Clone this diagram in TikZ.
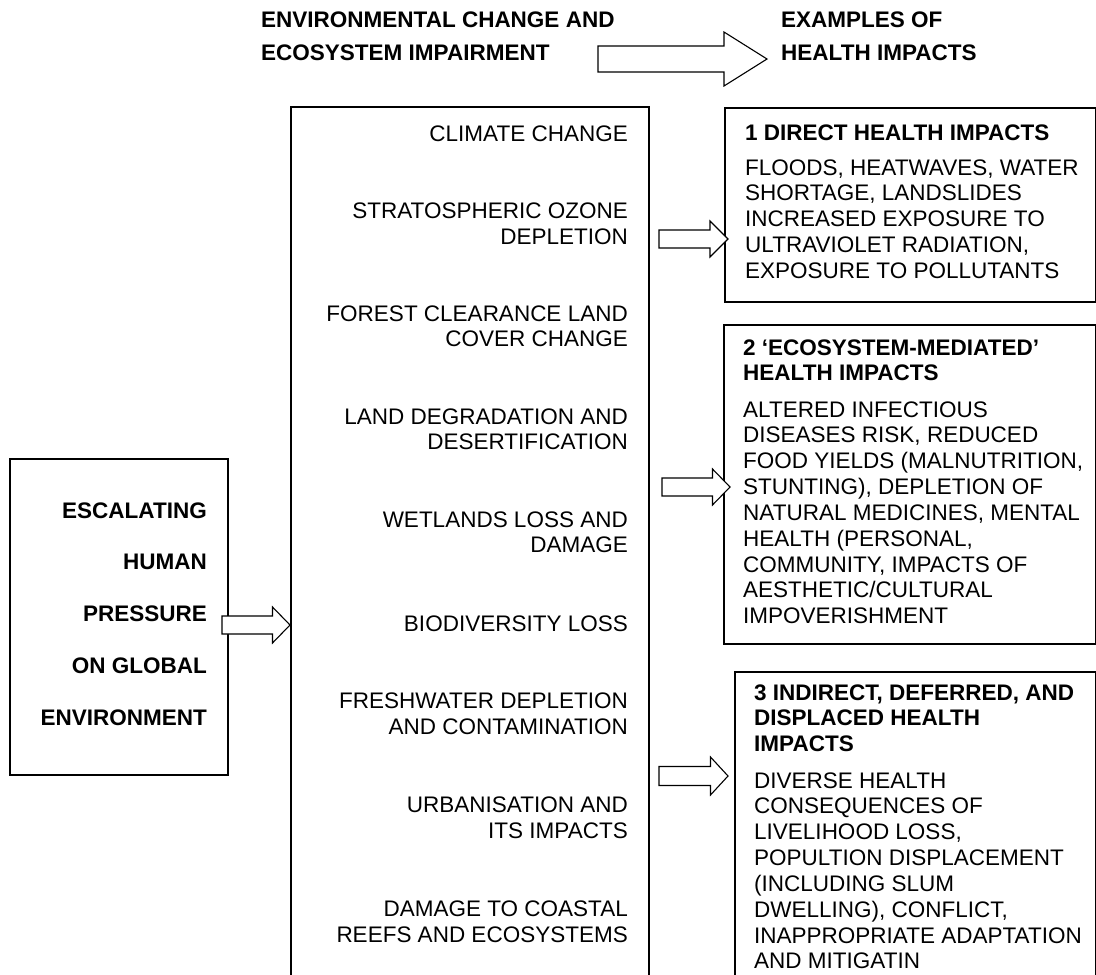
\documentclass[tikz,border=0pt]{standalone}
\usepackage{fontspec}
\setmainfont{Liberation Sans}
\newcommand\txt{\fontsize{22.5}{25.85}\selectfont}
\newcommand\rcol[1]{\begin{tabular}[t]{@{}r@{}}#1\end{tabular}}
\newcommand\lcol[1]{\begin{tabular}[t]{@{}l@{}}#1\end{tabular}}
% hollow block arrow: tip, total length, head length, shaft half-width, head half-width
\newcommand\blockarrow[5]{%
  \draw[arrowline,shift={(#1)}] (-#2,-#4) -- (-#3,-#4) -- (-#3,-#5) -- (0,0)
    -- (-#3,#5) -- (-#3,#4) -- (-#2,#4) -- cycle;}
\begin{document}
\begin{tikzpicture}[x=1pt,y=-1pt,font=\txt,inner sep=0pt,
  box/.style={draw,line width=1.6pt,anchor=north west,inner sep=0pt},
  arrowline/.style={draw,line width=1.1pt,fill=white,line join=miter},
  head/.style={font=\txt\bfseries},
  rtext/.style={anchor=base east},
  ltext/.style={anchor=base west}]
\useasboundingbox (0,0) rectangle (1096,975);
\fill[white] (0,0) rectangle (1096,975);
\clip (0,0) rectangle (1096,975);

% boxes
\node[box,minimum width=218pt,minimum height=316pt] (press) at (9,458) {};
\node[box,minimum width=358pt,minimum height=890pt] (env) at (290,106) {};
\node[box,minimum width=371pt,minimum height=194pt] (direct) at (724,107) {};
\node[box,minimum width=372pt,minimum height=319pt] (eco) at (723,324) {};
\node[box,minimum width=361pt,minimum height=330pt] (indirect) at (734,671) {};

% arrow tips
\coordinate (tip0) at (767,59);
\coordinate (tipL) at (290,625);
\coordinate (tip1) at (728,239);
\coordinate (tip2) at (730,487);
\coordinate (tip3) at (728,776);

% block arrows
\blockarrow{tip0}{169}{43}{13}{27}
\blockarrow{tipL}{68}{17.5}{9}{18}
\blockarrow{tip1}{69}{18}{9}{18}
\blockarrow{tip2}{68}{17.5}{9}{18}
\blockarrow{tip3}{69}{17.5}{9.5}{19}

% column headings
\node[ltext,head] (hd-env) at (261,27.5) {\lcol{ENVIRONMENTAL CHANGE AND\\[6.85pt]ECOSYSTEM IMPAIRMENT}};
\node[ltext,head] (hd-ex) at (781,27.5) {\lcol{EXAMPLES OF\\[6.85pt]HEALTH IMPACTS}};

% driving force
\node[rtext,head] (t-press) at (207,518) {\rcol{ESCALATING\\[25.9pt]HUMAN\\[25.9pt]PRESSURE\\[25.9pt]ON GLOBAL\\[25.9pt]ENVIRONMENT}};

% environmental changes
\node[rtext] (m1) at (628,141) {\rcol{CLIMATE CHANGE}};
\node[rtext] (m2) at (628,218.5) {\rcol{STRATOSPHERIC OZONE\\DEPLETION}};
\node[rtext] (m3) at (628,321) {\rcol{FOREST CLEARANCE LAND\\COVER CHANGE}};
\node[rtext] (m4) at (628,424) {\rcol{LAND DEGRADATION AND\\DESERTIFICATION}};
\node[rtext] (m5) at (628,527) {\rcol{WETLANDS LOSS AND\\DAMAGE}};
\node[rtext] (m6) at (628,631) {\rcol{BIODIVERSITY LOSS}};
\node[rtext] (m7) at (628,708.5) {\rcol{FRESHWATER DEPLETION\\AND CONTAMINATION}};
\node[rtext] (m8) at (628,812.5) {\rcol{URBANISATION AND\\ITS IMPACTS}};
\node[rtext] (m9) at (628,916.5) {\rcol{DAMAGE TO COASTAL\\REEFS AND ECOSYSTEMS}};

% health impacts
\node[ltext,head] (d-title) at (745,140) {\lcol{1 DIRECT HEALTH IMPACTS}};
\node[ltext] (d-body) at (745,175) {\lcol{FLOODS, HEATWAVES, WATER\\SHORTAGE, LANDSLIDES\\INCREASED EXPOSURE TO\\ULTRAVIOLET RADIATION,\\EXPOSURE TO POLLUTANTS}};

\node[ltext,head] (e-title) at (743,355) {\lcol{2 ‘ECOSYSTEM-MEDIATED’\\HEALTH IMPACTS}};
\node[ltext] (e-body) at (743,417) {\lcol{ALTERED INFECTIOUS\\DISEASES RISK, REDUCED\\FOOD YIELDS (MALNUTRITION,\\STUNTING), DEPLETION OF\\NATURAL MEDICINES, MENTAL\\HEALTH (PERSONAL,\\COMMUNITY, IMPACTS OF\\AESTHETIC/CULTURAL\\IMPOVERISHMENT}};

\node[ltext,head] (i-title) at (754,700) {\lcol{3 INDIRECT, DEFERRED, AND\\DISPLACED HEALTH\\IMPACTS}};
\node[ltext] (i-body) at (754,788) {\lcol{DIVERSE HEALTH\\CONSEQUENCES OF\\LIVELIHOOD LOSS,\\POPULTION DISPLACEMENT\\(INCLUDING SLUM\\DWELLING), CONFLICT,\\INAPPROPRIATE ADAPTATION\\AND MITIGATIN}};
\end{tikzpicture}
\end{document}
